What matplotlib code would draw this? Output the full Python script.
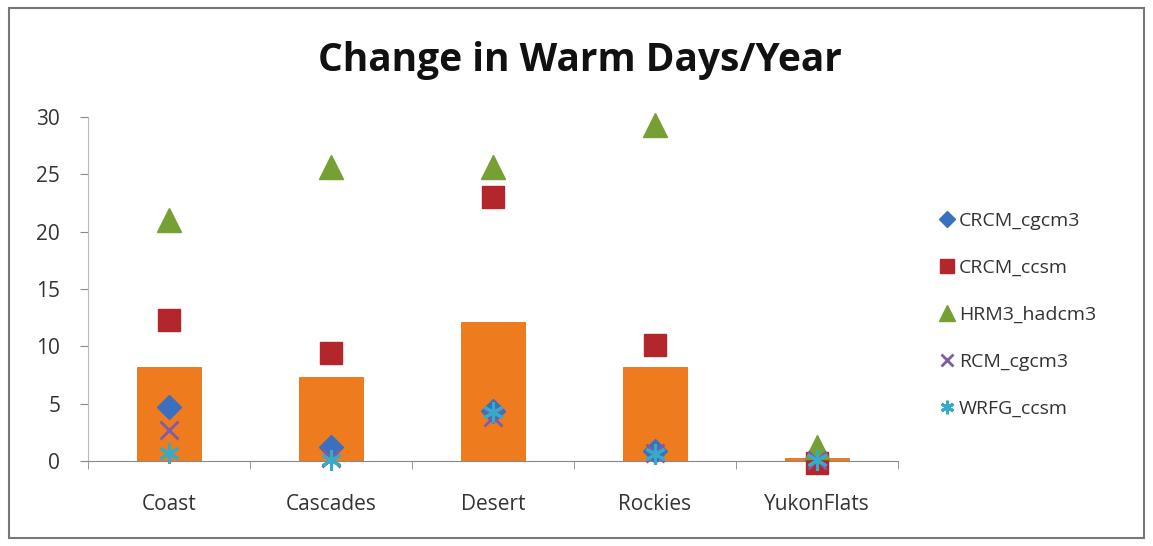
import matplotlib
matplotlib.use("Agg")
import matplotlib.pyplot as plt
from matplotlib.patches import Rectangle
import numpy as np

categories = ["Coast", "Cascades", "Desert", "Rockies", "YukonFlats"]
bar_values = [8.2, 7.3, 12.1, 8.2, 0.3]
crcm_cgcm3 = [4.7, 1.2, 4.4, 0.9, 0.2]
crcm_ccsm = [12.3, 9.4, 23.0, 10.1, -0.2]
hrm3_hadcm3 = [21.0, 25.6, 25.6, 29.3, 1.2]
rcm_cgcm3 = [2.7, 0.3, 3.8, 0.7, 0.1]
wrfg_ccsm = [0.7, 0.1, 4.3, 0.6, 0.1]
yticks = [0, 5, 10, 15, 20, 25, 30]

plt.rcParams['font.family'] = ['Open Sans', 'DejaVu Sans']

fig = plt.figure(figsize=(11.53, 5.46), dpi=100)
ax = fig.add_axes([88/1153, 1-461/546, (898-88)/1153, (461-117)/546])

x = np.arange(len(categories))
ax.bar(x, bar_values, width=0.4, color="#EE7B1E", edgecolor="#E57012", linewidth=0.6, zorder=2)

series = [
    ("CRCM_cgcm3", crcm_cgcm3, dict(marker="D", color="#3B6FBF", ms=12)),
    ("CRCM_ccsm", crcm_ccsm, dict(marker="s", color="#B3262B", ms=16)),
    ("HRM3_hadcm3", hrm3_hadcm3, dict(marker="^", color="#76A033", ms=17)),
    ("RCM_cgcm3", rcm_cgcm3, dict(marker="x", color="#7D5CA8", ms=13, mew=2)),
    ("WRFG_ccsm", wrfg_ccsm, dict(marker=(6, 2, 0), color="#36ABC8", ms=15, mew=2.2)),
]
for name, vals, st in series:
    ax.plot(x, vals, linestyle="none", label=name, zorder=3, clip_on=False, **st)

ax.set_xlim(-0.5, len(categories) - 0.5)
ax.set_ylim(0, 30)
ax.set_yticks(yticks)
ax.set_xticks(x)
ax.set_xticklabels(categories)
ax.set_xticks(np.arange(len(categories) + 1) - 0.5, minor=True)
ax.tick_params(axis="x", which="major", length=0, pad=24, labelsize=15, labelcolor="#333333")
ax.tick_params(axis="x", which="minor", length=6, color="#888888", direction="out")
ax.tick_params(axis="y", length=6, color="#888888", labelsize=15, labelcolor="#333333", pad=14)
for s in ["top", "right"]:
    ax.spines[s].set_visible(False)
ax.spines["left"].set_color("#bbbbbb")
ax.spines["bottom"].set_color("#888888")

fig.text(580/1153, 1-60/546, "Change in Warm Days/Year", ha="center", va="center",
         fontsize=28, fontweight="bold", color="#111111")

leg_handles = []
for name, vals, st in series:
    st2 = dict(st)
    st2["ms"] = st2["ms"] * 0.65
    h, = ax.plot([], [], linestyle="none", label=name, **st2)
    leg_handles.append(h)
fig.legend(handles=leg_handles, labels=[s[0] for s in series], loc="upper left",
           bbox_to_anchor=(922/1153, 1-194/546), frameon=False, fontsize=14,
           labelspacing=1.5, handlelength=0.8, handletextpad=0.2, labelcolor="#333333")

fig.patches.append(Rectangle((9/1153, 8/546), 1135/1153, 530/546, transform=fig.transFigure,
                             fill=False, edgecolor="#777777", linewidth=1.5))

fig.savefig("out.png", dpi=100, facecolor="white")
